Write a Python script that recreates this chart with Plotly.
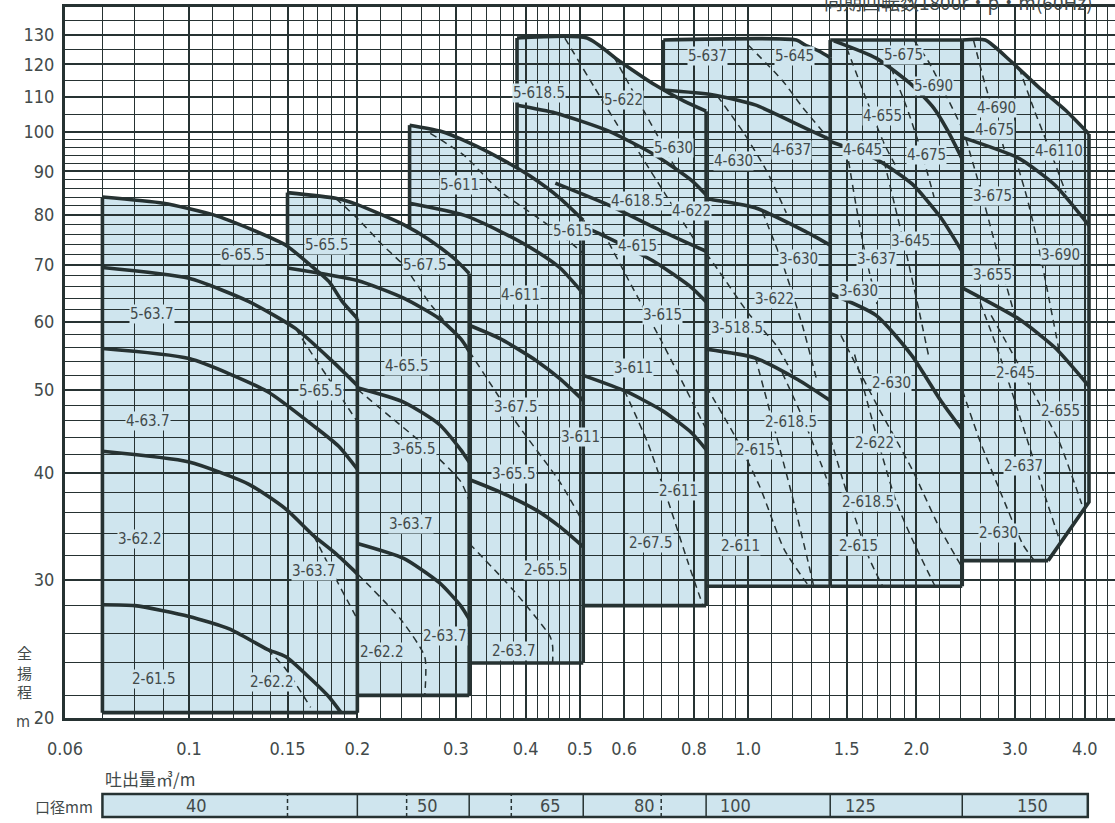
import numpy as np
import plotly.graph_objects as go

LINE = "#263232"
FILL = "#cfe5ee"
TEXT = "#424a4a"
FONT = "Liberation Sans Narrow, DejaVu Sans Condensed, Roboto, sans-serif"
CJK = "Noto Sans CJK JP, sans-serif"

# ---------------- axes ----------------
X_RANGE = [0.06, 4.53]
Y_RANGE = [20.7, 140.0]
X_TICK_VALS = [0.06, 0.1, 0.15, 0.2, 0.3, 0.4, 0.5, 0.6, 0.8, 1.0, 1.5, 2.0, 3.0, 4.0]
X_TICK_TEXT = ["0.06", "0.1", "0.15", "0.2", "0.3", "0.4", "0.5", "0.6", "0.8", "1.0", "1.5", "2.0", "3.0", "4.0"]
X_MINOR_VALS = [0.07, 0.08, 0.09, 0.11, 0.12, 0.13, 0.14, 0.16, 0.17, 0.18, 0.19,
                0.22, 0.24, 0.26, 0.28, 0.32, 0.34, 0.36, 0.38, 0.42, 0.44, 0.46, 0.48,
                0.55, 0.65, 0.7, 0.75, 0.85, 0.9, 0.95,
                1.1, 1.2, 1.3, 1.4, 1.6, 1.7, 1.8, 1.9,
                2.2, 2.4, 2.6, 2.8, 3.2, 3.4, 3.6, 3.8, 4.2, 4.4]
Y_TICK_VALS = [20.7, 30, 40, 50, 60, 70, 80, 90, 100, 110, 120, 130]
Y_TICK_TEXT = ["20", "30", "40", "50", "60", "70", "80", "90", "100", "110", "120", "130"]
Y_MINOR_VALS = [22, 24, 26, 28, 32, 34, 36, 38, 42, 44, 46, 48, 52, 54, 56, 58,
                62, 64, 66, 68, 72, 74, 76, 78, 82, 84, 86, 88, 92, 94, 96, 98,
                105, 115, 125, 135]

# ---------------- blocks (shaded selection ranges) ----------------
BLOCK_LEFT = [0.07, 0.15, 0.248, 0.386, 0.705, 1.402, 2.415]
BLOCK_BOTTOM = [21.0, 22.0, 24.0, 28.0, 29.5, 29.5, 31.6]

B1_TOP = [(0.07, 84.0), (0.09, 82.6), (0.111, 80.0), (0.128, 77.2), (0.149, 73.8),
          (0.165, 69.9), (0.178, 66.9), (0.188, 63.4), (0.2, 60.6)]
B2_TOP = [(0.15, 85.0), (0.183, 83.7), (0.2, 82.3), (0.242, 78.0), (0.268, 75.0),
          (0.298, 71.2), (0.317, 68.4)]
B3_TOP = [(0.248, 101.9), (0.281, 100.3), (0.318, 97.1), (0.36, 93.2), (0.408, 88.8),
          (0.461, 83.7), (0.507, 78.9)]
B4_TOP = [(0.386, 128.8), (0.515, 128.8), (0.588, 121.1), (0.682, 113.5), (0.768, 108.7),
          (0.841, 105.8)]
B5_TOP = [(0.705, 128.1), (1.22, 128.1), (1.265, 126.4), (1.34, 124.3), (1.402, 122.2)]
B6_TOP = [(1.402, 128.1), (2.415, 128.1)]
B7_TOP = [(2.415, 128.1), (2.655, 128.1), (2.95, 121.0), (3.3, 113.0), (3.7, 106.0), (4.07, 99.5)]
B7_SIDE = [(4.07, 99.5), (4.07, 37.0), (3.44, 31.6)]

# ---------------- thick H-Q curves (stage curves) ----------------
B1_C2 = [(0.07, 69.5), (0.1, 67.5), (0.128, 63.4), (0.155, 59.0), (0.18, 54.1), (0.2, 50.6)]
B1_C3 = [(0.07, 55.9), (0.1, 54.4), (0.138, 49.8), (0.167, 45.4), (0.185, 43.0), (0.2, 40.4)]
B1_C4 = [(0.07, 42.4), (0.1, 41.2), (0.128, 38.8), (0.149, 36.3), (0.167, 33.8), (0.183, 32.2), (0.2, 30.5)]
B1_C5 = [(0.07, 28.07), (0.08, 28.0), (0.1, 27.2), (0.118, 26.3), (0.138, 24.9), (0.149, 24.4),
         (0.165, 23.0), (0.178, 21.9), (0.187, 21.0)]
B2_C2 = [(0.15, 69.4), (0.2, 67.1), (0.242, 64.0), (0.28, 60.6), (0.306, 57.4), (0.317, 55.5)]
B2_C3 = [(0.2, 50.3), (0.242, 48.4), (0.28, 45.6), (0.306, 42.6), (0.317, 41.2)]
B2_C4 = [(0.2, 33.1), (0.242, 31.8), (0.28, 29.8), (0.306, 28.0), (0.317, 27.0)]
B3_C2 = [(0.248, 82.6), (0.31, 80.0), (0.36, 76.6), (0.418, 72.6), (0.461, 69.4), (0.507, 64.8)]
B3_C3 = [(0.317, 59.5), (0.36, 57.4), (0.418, 54.1), (0.461, 51.5), (0.507, 48.6)]
B3_C4 = [(0.317, 39.3), (0.36, 38.0), (0.418, 36.2), (0.461, 34.6), (0.507, 32.8)]
B4_C2 = [(0.386, 107.5), (0.452, 105.3), (0.563, 100.3), (0.682, 94.0), (0.791, 87.9), (0.841, 84.5)]
B4_C3 = [(0.507, 77.6), (0.563, 75.2), (0.682, 70.5), (0.791, 65.9), (0.841, 63.4)]
B4_C4 = [(0.507, 52.0), (0.605, 49.8), (0.702, 47.3), (0.791, 44.6), (0.841, 42.6)]
B4_X1 = [(0.452, 87.2), (0.563, 82.2), (0.702, 76.6), (0.841, 72.6)]
B5_C1 = [(0.705, 112.0), (0.862, 110.6), (1.029, 107.6), (1.265, 101.1), (1.402, 98.0)]
B5_C2 = [(0.841, 83.6), (1.029, 81.6), (1.265, 76.6), (1.402, 73.8)]
B5_C3 = [(0.841, 55.8), (1.029, 54.5), (1.228, 51.4), (1.402, 48.6)]
B6_C1 = [(1.423, 127.8), (1.694, 122.0), (1.964, 113.5), (2.148, 106.7), (2.277, 100.3), (2.415, 93.0)]
B6_C2 = [(1.402, 97.5), (1.694, 93.0), (1.964, 87.0), (2.21, 79.5), (2.415, 72.5)]
B6_C3 = [(1.402, 64.8), (1.694, 61.1), (1.964, 54.8), (2.214, 48.5), (2.415, 44.9)]
B7_C1 = [(2.415, 98.6), (3.05, 93.2), (3.54, 86.7), (4.07, 77.8)]
B7_C2 = [(2.415, 65.8), (3.05, 60.5), (3.54, 56.0), (4.07, 50.5)]

# ---------------- dashed curves (motor limits) ----------------
B1_D1 = [(0.155, 59.0), (0.165, 55.4), (0.183, 50.1), (0.2, 45.9)]
B1_D2 = [(0.167, 33.8), (0.183, 30.1), (0.197, 27.5), (0.2, 27.0)]
B1_D3 = [(0.138, 24.9), (0.149, 23.6), (0.165, 21.3)]
B2_D1 = [(0.183, 83.7), (0.2, 79.3), (0.222, 73.8), (0.242, 69.9), (0.268, 63.4), (0.285, 60.4)]
B2_D2 = [(0.2, 50.1), (0.232, 46.2), (0.268, 42.7), (0.306, 39.1), (0.317, 37.1)]
B2_D3 = [(0.2, 30.5), (0.239, 27.0), (0.264, 24.4), (0.264, 22.0)]
B3_D1 = [(0.27, 99.7), (0.31, 94.0), (0.36, 85.3), (0.404, 80.9), (0.455, 76.6), (0.507, 72.2)]
B3_D2 = [(0.317, 55.5), (0.383, 46.0), (0.461, 39.0), (0.507, 35.0)]
B3_D3 = [(0.317, 33.1), (0.38, 29.2), (0.442, 25.8), (0.447, 25.1), (0.447, 24.0)]
B4_D1 = [(0.47, 128.8), (0.53, 113.0), (0.6, 99.0)]
B4_D2 = [(0.575, 122.5), (0.65, 106.0), (0.74, 91.0)]
B4_D3 = [(0.62, 97.5), (0.70, 86.0), (0.80, 75.0)]
B4_D4 = [(0.55, 76.5), (0.62, 66.0), (0.70, 57.0), (0.80, 48.0), (0.841, 45.0)]
B4_D5 = [(0.6, 50.0), (0.66, 43.5), (0.72, 37.0), (0.78, 31.5), (0.83, 28.0)]
B5_D1 = [(1.0, 126.4), (1.15, 115.0), (1.25, 107.0), (1.38, 99.0)]
B5_D2 = [(0.88, 110.3), (0.98, 100.0), (1.08, 90.0), (1.17, 80.5)]
B5_D3 = [(0.841, 72.2), (0.887, 68.8), (1.0, 61.5), (1.122, 56.4), (1.2, 52.3)]
B5_D4 = [(1.06, 80.8), (1.15, 70.5), (1.25, 59.5), (1.33, 51.0)]
B5_D5 = [(0.841, 50.5), (0.95, 44.0), (1.05, 38.5), (1.159, 32.6), (1.284, 29.5)]
B5_D6 = [(1.03, 54.6), (1.11, 45.5), (1.2, 37.5), (1.28, 31.5), (1.31, 29.5)]
B5_D7 = [(1.15, 52.4), (1.25, 46.5), (1.35, 41.0), (1.402, 38.4)]
B6_D1 = [(1.98, 128.0), (2.1, 121.0), (2.25, 111.0), (2.415, 101.0)]
B6_D2 = [(1.5, 125.5), (1.62, 110.0), (1.75, 97.0), (1.85, 90.5)]
B6_D3 = [(1.8, 119.0), (1.92, 107.0), (2.04, 95.0), (2.15, 84.0)]
B6_D4 = [(1.5, 95.5), (1.56, 82.0), (1.62, 72.0), (1.7, 63.0)]
B6_D5 = [(1.75, 92.5), (1.83, 82.0), (1.92, 72.0), (2.02, 62.0), (2.1, 55.0)]
B6_D6 = [(1.402, 44.0), (1.5, 38.0), (1.646, 31.8), (1.74, 29.5)]
B6_D7 = [(1.55, 55.0), (1.7, 44.0), (1.84, 37.0), (1.964, 33.5), (2.148, 29.7), (2.16, 29.5)]
B6_D8 = [(1.465, 57.9), (1.7, 48.0), (1.964, 40.4), (2.2, 34.5), (2.415, 31.0)]
B7_D1 = [(2.53, 128.0), (2.65, 114.0), (2.77, 103.5), (2.87, 95.5)]
B7_D2 = [(3.05, 119.0), (3.25, 106.0), (3.45, 96.0), (3.7, 85.0)]
B7_D3 = [(2.45, 98.3), (2.6, 86.0), (2.75, 75.0), (2.9, 66.0), (3.0, 61.0)]
B7_D4 = [(3.0, 93.6), (3.15, 84.0), (3.3, 74.0), (3.45, 64.0), (3.6, 55.5)]
B7_D5 = [(2.415, 50.0), (2.6, 43.5), (2.85, 37.5), (3.1, 33.0), (3.25, 31.6)]
B7_D6 = [(2.6, 63.3), (2.8, 55.5), (3.0, 48.5), (3.2, 42.5), (3.4, 37.5), (3.6, 33.5)]
B7_D7 = [(2.72, 61.1), (3.0, 54.5), (3.3, 48.5), (3.6, 43.5), (3.95, 36.8)]

# ---------------- curve labels ----------------
LABEL_TEXT = ["6-65.5", "5-63.7", "4-63.7", "3-62.2", "2-61.5", "5-65.5", "3-63.7", "2-62.2",
              "5-65.5", "5-67.5", "4-65.5", "3-65.5", "3-63.7", "2-62.2", "2-63.7",
              "5-611", "5-615", "4-611", "3-67.5", "3-65.5", "2-65.5", "2-63.7",
              "5-618.5", "5-622", "5-630", "4-618.5", "4-622", "4-615", "3-615", "3-611", "3-611",
              "2-611", "2-67.5",
              "5-637", "5-645", "4-630", "4-637", "3-630", "3-622", "3-518.5", "2-618.5", "2-615", "2-611",
              "5-675", "5-690", "4-655", "4-645", "4-675", "3-645", "3-637", "3-630", "2-630", "2-622",
              "2-618.5", "2-615",
              "4-690", "4-675", "4-6110", "3-675", "3-690", "3-655", "2-645", "2-655", "2-637", "2-630"]
LABEL_Q = [0.1249, 0.0858, 0.0845, 0.0817, 0.0867, 0.1722, 0.1674, 0.1408,
           0.1765, 0.2644, 0.2455, 0.2526, 0.2497, 0.2214, 0.2866,
           0.304, 0.486, 0.391, 0.3846, 0.381, 0.435, 0.381,
           0.4228, 0.5975, 0.734, 0.633, 0.791, 0.633, 0.702, 0.624, 0.5005,
           0.75, 0.67,
           0.845, 1.209, 0.942, 1.194, 1.228, 1.116, 0.956, 1.192, 1.029, 0.97,
           1.893, 2.148, 1.737, 1.599, 2.082, 1.949, 1.694, 1.577, 1.803, 1.684,
           1.636, 1.577,
           2.777, 2.754, 3.594, 2.737, 3.615, 2.732, 3.012, 3.615, 3.104, 2.80]
LABEL_H = [71.8, 61.4, 46.0, 33.5, 23.0, 49.9, 30.7, 22.8,
           73.8, 70.0, 53.4, 42.7, 34.9, 24.7, 25.8,
           86.8, 76.6, 64.5, 47.8, 39.9, 30.8, 24.8,
           111.1, 109.0, 95.8, 83.2, 81.0, 73.6, 61.1, 53.0, 44.1,
           38.1, 33.1,
           122.7, 122.7, 92.5, 95.3, 71.2, 63.9, 59.0, 45.9, 42.5, 32.9,
           123.0, 113.2, 104.4, 95.3, 94.0, 74.7, 71.2, 65.2, 50.9, 43.3,
           37.0, 32.9,
           106.7, 100.5, 95.0, 84.2, 71.8, 68.2, 52.3, 47.3, 40.8, 34.0]

# ---------------- bore (caliber) bar ----------------
BAR_RANGE = [0.07, 4.05]
BAR_SOLID = [0.2, 0.317, 0.507, 0.841, 1.402, 2.415]
BAR_DASHED = [0.15, 0.245, 0.377, 0.699]
BAR_TEXT = ["40", "50", "65", "80", "100", "125", "150"]
BAR_Q = [0.103, 0.267, 0.443, 0.652, 0.948, 1.586, 3.22]

# =====================================================================
TOPS = [B1_TOP, B2_TOP, B3_TOP, B4_TOP, B5_TOP, B6_TOP, B7_TOP]
THICK = [B1_C2, B1_C3, B1_C4, B1_C5, B2_C2, B2_C3, B2_C4, B3_C2, B3_C3, B3_C4,
         B4_C2, B4_C3, B4_C4, B4_X1, B5_C1, B5_C2, B5_C3, B6_C1, B6_C2, B6_C3, B7_C1, B7_C2]
DASHED = [B1_D1, B1_D2, B1_D3, B2_D1, B2_D2, B2_D3, B3_D1, B3_D2, B3_D3,
          B4_D1, B4_D2, B4_D3, B4_D4, B4_D5,
          B5_D1, B5_D2, B5_D3, B5_D4, B5_D5, B5_D6, B5_D7,
          B6_D1, B6_D2, B6_D3, B6_D4, B6_D5, B6_D6, B6_D7, B6_D8,
          B7_D1, B7_D2, B7_D3, B7_D4, B7_D5, B7_D6, B7_D7]


def sides():
    out = []
    for i, top in enumerate(TOPS):
        if i == len(TOPS) - 1:
            out.append(B7_SIDE)
        else:
            out.append([top[-1], (top[-1][0], BLOCK_BOTTOM[i])])
    return out


SIDES = sides()


def height_at(points, q):
    best = None
    for (q0, h0), (q1, h1) in zip(points[:-1], points[1:]):
        if min(q0, q1) <= q <= max(q0, q1):
            if q0 == q1:
                h = max(h0, h1)
            else:
                t = (np.log10(q) - np.log10(q0)) / (np.log10(q1) - np.log10(q0))
                h = 10 ** (np.log10(h0) + t * (np.log10(h1) - np.log10(h0)))
            best = h if best is None else max(best, h)
    return best


fig = go.Figure()
shapes = []

for i, top in enumerate(TOPS):
    pts = [(BLOCK_LEFT[i], BLOCK_BOTTOM[i])] + top + SIDES[i][1:]
    path = "M " + " L ".join(f"{q},{h}" for q, h in pts) + " Z"
    shapes.append(dict(type="path", path=path, xref="x", yref="y", fillcolor=FILL,
                       line=dict(width=0), layer="below"))


def add_line(pts, width=3.6, dash=None, shape="spline"):
    fig.add_trace(go.Scatter(x=[p[0] for p in pts], y=[p[1] for p in pts], mode="lines",
                             line=dict(color=LINE, width=width, dash=dash, shape=shape,
                                       smoothing=0.6 if shape == "spline" else None),
                             hoverinfo="skip", showlegend=False))


for i, top in enumerate(TOPS):
    add_line(top)
    add_line(SIDES[i], shape="linear")
    left = BLOCK_LEFT[i]
    stop = BLOCK_BOTTOM[i]
    qstart = left
    for j in range(i):
        prev = TOPS[j] + SIDES[j][1:]
        h = height_at(prev, left)
        if h is not None:
            stop = max(stop, h)
        qstart = max(qstart, SIDES[j][-1][0])
    if top[0][1] > stop:
        add_line([(left, top[0][1]), (left, stop)], shape="linear")
    add_line([(qstart, BLOCK_BOTTOM[i]), (SIDES[i][-1][0], BLOCK_BOTTOM[i])], shape="linear")

for c in THICK:
    add_line(c)
for c in DASHED:
    add_line(c, width=1.5, dash="7px,5px", shape="spline")

annotations = []
for t, q, h in zip(LABEL_TEXT, LABEL_Q, LABEL_H):
    annotations.append(dict(x=np.log10(q), y=np.log10(h), xref="x", yref="y", text=t,
                            showarrow=False, bgcolor=FILL, borderpad=0,
                            xanchor="center", yanchor="middle",
                            font=dict(family=FONT, size=15, color=TEXT)))

PLOT_TOP, PLOT_BOTTOM, PLOT_LEFT = 7, 718, 65
PH = PLOT_BOTTOM - PLOT_TOP
PW = 1115 - PLOT_LEFT


def py(pix):
    return (PLOT_BOTTOM - pix) / PH


def px(pix):
    return (pix - PLOT_LEFT) / PW


bar_top, bar_bot = py(794), py(817)
shapes.append(dict(type="rect", xref="x", yref="paper", x0=BAR_RANGE[0], x1=BAR_RANGE[1],
                   y0=bar_bot, y1=bar_top, fillcolor=FILL, line=dict(color=LINE, width=2.5),
                   layer="above"))
for q in BAR_SOLID:
    shapes.append(dict(type="line", xref="x", yref="paper", x0=q, x1=q, y0=bar_bot, y1=bar_top,
                       line=dict(color=LINE, width=1.5)))
for q in BAR_DASHED:
    shapes.append(dict(type="line", xref="x", yref="paper", x0=q, x1=q, y0=bar_bot, y1=bar_top,
                       line=dict(color=LINE, width=1.5, dash="4px,3px")))
for t, q in zip(BAR_TEXT, BAR_Q):
    annotations.append(dict(x=np.log10(q), y=(bar_top + bar_bot) / 2, xref="x", yref="paper",
                            text=t, showarrow=False, xanchor="center", yanchor="middle",
                            font=dict(family=FONT, size=18, color=TEXT)))

annotations += [
    dict(x=px(95), y=py(806), xref="paper", yref="paper", xanchor="right", yanchor="middle",
         text="口径mm", showarrow=False, font=dict(family=CJK, size=15, color=TEXT)),
    dict(x=px(103), y=py(779), xref="paper", yref="paper", xanchor="left", yanchor="middle",
         text="吐出量㎥/m", showarrow=False, font=dict(family=CJK, size=17, color=TEXT)),
    dict(x=px(24), y=py(672), xref="paper", yref="paper", xanchor="center", yanchor="middle",
         text="全<br>揚<br>程", showarrow=False, font=dict(family=CJK, size=15, color=TEXT)),
    dict(x=px(23), y=py(721), xref="paper", yref="paper", xanchor="center", yanchor="middle",
         text="m", showarrow=False, font=dict(family=FONT, size=16, color=TEXT)),
    dict(x=px(822), y=py(1), xref="paper", yref="paper", xanchor="left", yanchor="middle",
         text="同期回転数1800r・p・m(60Hz)", showarrow=False,
         font=dict(family=CJK, size=19, color=TEXT)),
]

fig.update_layout(
    width=1115, height=823,
    margin=dict(l=PLOT_LEFT, r=0, t=PLOT_TOP, b=823 - PLOT_BOTTOM, autoexpand=False),
    paper_bgcolor="white", plot_bgcolor="white",
    shapes=shapes, annotations=annotations, showlegend=False,
    xaxis=dict(type="log", range=[np.log10(X_RANGE[0]), np.log10(X_RANGE[1])],
               tickmode="array", tickvals=X_TICK_VALS, ticktext=X_TICK_TEXT,
               showgrid=True, gridcolor=LINE, gridwidth=2.3,
               minor=dict(tickmode="array", tickvals=X_MINOR_VALS, showgrid=True,
                          gridcolor=LINE, gridwidth=1.3),
               ticks="", showline=True, linewidth=3, linecolor=LINE, mirror=True,
               zeroline=False, ticklabelstandoff=12, automargin=False,
               tickfont=dict(family=FONT, size=18, color=TEXT)),
    yaxis=dict(type="log", range=[np.log10(Y_RANGE[0]), np.log10(Y_RANGE[1])],
               tickmode="array", tickvals=Y_TICK_VALS, ticktext=Y_TICK_TEXT,
               showgrid=True, gridcolor=LINE, gridwidth=2.3,
               minor=dict(tickmode="array", tickvals=Y_MINOR_VALS, showgrid=True,
                          gridcolor=LINE, gridwidth=1.3),
               ticks="", showline=True, linewidth=3, linecolor=LINE, mirror=False,
               zeroline=False, ticklabelstandoff=4, automargin=False,
               tickfont=dict(family=FONT, size=18, color=TEXT)),
)

fig.write_html("out.html", config={"displayModeBar": False},
               post_script="document.body.style.margin='0';document.body.style.overflow='hidden';")
